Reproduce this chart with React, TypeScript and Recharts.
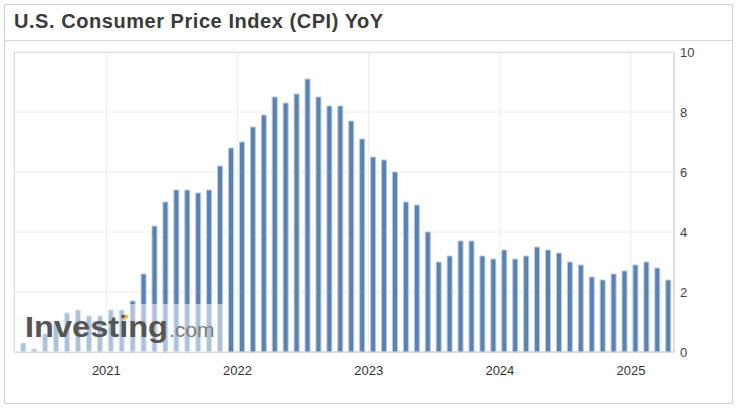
import { BarChart, Bar, XAxis, YAxis, CartesianGrid } from 'recharts';

// release month of each CPI print (YYYY-MM) and the YoY value shown
const releaseMonths = [
  '2020-05', '2020-06', '2020-07', '2020-08', '2020-09', '2020-10', '2020-11', '2020-12',
  '2021-01', '2021-02', '2021-03', '2021-04', '2021-05', '2021-06', '2021-07', '2021-08',
  '2021-09', '2021-10', '2021-11', '2021-12', '2022-01', '2022-02', '2022-03', '2022-04',
  '2022-05', '2022-06', '2022-07', '2022-08', '2022-09', '2022-10', '2022-11', '2022-12',
  '2023-01', '2023-02', '2023-03', '2023-04', '2023-05', '2023-06', '2023-07', '2023-08',
  '2023-09', '2023-10', '2023-11', '2023-12', '2024-01', '2024-02', '2024-03', '2024-04',
  '2024-05', '2024-06', '2024-07', '2024-08', '2024-09', '2024-10', '2024-11', '2024-12',
  '2025-01', '2025-02', '2025-03', '2025-04',
];
const cpiYoY = [
  0.3, 0.1, 0.6, 1.0, 1.3, 1.4, 1.2, 1.2,
  1.4, 1.4, 1.7, 2.6, 4.2, 5.0, 5.4, 5.4,
  5.3, 5.4, 6.2, 6.8, 7.0, 7.5, 7.9, 8.5,
  8.3, 8.6, 9.1, 8.5, 8.2, 8.2, 7.7, 7.1,
  6.5, 6.4, 6.0, 5.0, 4.9, 4.0, 3.0, 3.2,
  3.7, 3.7, 3.2, 3.1, 3.4, 3.1, 3.2, 3.5,
  3.4, 3.3, 3.0, 2.9, 2.5, 2.4, 2.6, 2.7,
  2.9, 3.0, 2.8, 2.4,
];
const yearTicks = [2021, 2022, 2023, 2024, 2025];
const yTicks = [0, 2, 4, 6, 8, 10];

const BASE_YEAR = 2020;
// months since Jan 2020; prints come out around the 12th, so ~0.4 into the month
const toT = (ym: string) => {
  const [y, m] = ym.split('-').map(Number);
  return (y - BASE_YEAR) * 12 + (m - 1) + 0.4;
};

const data = releaseMonths.map((ym, i) => ({ t: toT(ym), value: cpiYoY[i] }));
const xTicks = yearTicks.map((y) => (y - BASE_YEAR) * 12);

const FONT = 'Arial, "Liberation Sans", sans-serif';

export default function App() {
  return (
    <div style={{ position: 'absolute', left: 0, top: 0, width: 739, height: 408, background: '#fff', fontFamily: FONT }}>
      {/* outer frame + title */}
      <div style={{ position: 'absolute', left: 4, top: 4, width: 729, height: 400, border: '1px solid #cfcfcf', boxSizing: 'border-box' }} />
      <div style={{ position: 'absolute', left: 4, top: 40, width: 729, height: 1, background: '#d6d6d6' }} />
      <div style={{ position: 'absolute', left: 14, top: 11.4, fontSize: 20, lineHeight: '20px', letterSpacing: 0.55, fontWeight: 700, color: '#3a3a3a', whiteSpace: 'nowrap' }}>
        U.S. Consumer Price Index (CPI) YoY
      </div>

      <div style={{ position: 'absolute', left: 0, top: 0 }}>
        <BarChart width={739} height={408} data={data} margin={{ top: 52, right: 25, bottom: 26, left: 14 }}>
          <CartesianGrid stroke="#ececec" />
          <XAxis
            dataKey="t"
            type="number"
            domain={[3.55, 63.93]}
            ticks={xTicks}
            tickFormatter={(v: number) => String(BASE_YEAR + v / 12)}
            height={30}
            tickSize={0}
            tickMargin={14}
            tickLine={false}
            axisLine={{ stroke: '#c8c8c8' }}
            tick={{ fill: '#333', fontSize: 13, fontFamily: FONT }}
          />
          <YAxis
            orientation="right"
            domain={[0, 10]}
            ticks={yTicks}
            width={40}
            tickSize={0}
            tickMargin={6}
            tickLine={false}
            axisLine={{ stroke: '#c8c8c8' }}
            tick={{ fill: '#444', fontSize: 13, fontFamily: FONT }}
          />
          <Bar dataKey="value" fill="#5a82b0" stroke="#b9cadf" strokeWidth={1} barSize={5} isAnimationActive={false} />
        </BarChart>
      </div>

      {/* plot frame top/left */}
      <div style={{ position: 'absolute', left: 14, top: 52, width: 660, height: 300, borderTop: '1px solid #dadada', borderLeft: '1px solid #dadada', boxSizing: 'border-box', pointerEvents: 'none' }} />

      {/* watermark */}
      <svg width={739} height={408} style={{ position: 'absolute', left: 0, top: 0, pointerEvents: 'none' }}>
        <rect x={15} y={304} width={213} height={48} fill="#fff" fillOpacity={0.5} />
        <text x={25} y={337} fontSize={29} fontWeight={700} fill="#555" fontFamily={FONT} textLength={143} lengthAdjust="spacingAndGlyphs">
          Investing
        </text>
        <path d="M122 321 L126 314 L129 317 Z" fill="#f2b233" />
        <text x={169} y={337} fontSize={21} fill="#7e7e7e" fontFamily={FONT}>
          .com
        </text>
      </svg>
    </div>
  );
}
